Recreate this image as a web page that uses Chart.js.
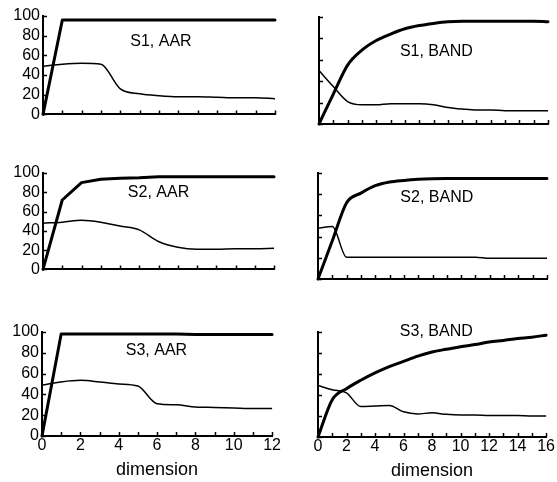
<!DOCTYPE html>
<html>
<head>
<meta charset="utf-8">
<script src="https://cdn.jsdelivr.net/npm/chart.js@4/dist/chart.umd.min.js"></script>
<style>
  html, body { margin: 0; padding: 0; background: #fff; }
  body { width: 557px; height: 482px; position: relative; overflow: hidden; }
  .panel { position: absolute; }
</style>
</head>
<body>
<div class="panel" id="p1"><canvas id="c1"></canvas></div>
<div class="panel" id="p2"><canvas id="c2"></canvas></div>
<div class="panel" id="p3"><canvas id="c3"></canvas></div>
<div class="panel" id="p4"><canvas id="c4"></canvas></div>
<div class="panel" id="p5"><canvas id="c5"></canvas></div>
<div class="panel" id="p6"><canvas id="c6"></canvas></div>
<script>
// ---- data ----
// x = dimension; the heavy curve and the light curve per panel
const aarDims  = [0, 1, 2, 3, 4, 5, 6, 7, 8, 9, 10, 11, 12];
const bandDims = [0, 1, 2, 3, 4, 5, 6, 7, 8, 9, 10, 11, 12, 13, 14, 15, 16];
const yTicks   = [0, 20, 40, 60, 80, 100];

const s1AarHeavy  = [0, 96, 96, 96, 96, 96, 96, 96, 96, 96, 96, 96, 96];
const s1AarLight  = [49, 51, 52, 51, 26, 21, 19, 18, 18, 17.5, 17, 17, 16];
const s1BandHeavy = [0, 28, 55, 69, 78, 84, 89, 92, 94, 95.5, 96, 96, 96, 96, 96, 96, 95.5];
const s1BandLight = [50, 35, 21, 18, 18, 19, 19, 19, 18, 15.5, 14, 13, 13, 12.5, 12.5, 12.5, 12.5];

const s2AarHeavy  = [0, 72, 90, 93.5, 94.5, 95, 96, 96, 96, 96, 96, 96, 96];
const s2AarLight  = [48, 49, 51, 49, 45, 41, 29, 23, 21, 21, 21.5, 21.5, 22];
const s2BandHeavy = [0, 36, 72, 81, 88, 91.5, 93, 94, 94.5, 94.7, 94.7, 94.7, 94.7, 94.7, 94.7, 94.7, 94.7];
const s2BandLight = [48, 49.5, 20.5, 20.5, 20.5, 20.5, 20.5, 20.5, 20.5, 20.5, 20.5, 20.5, 19.5, 19.5, 19.5, 19.5, 19.5];

const s3AarHeavy  = [0, 98, 98, 98, 98, 98, 98, 98, 97.5, 97.5, 97.5, 97.5, 97.5];
const s3AarLight  = [49, 52, 53.5, 52, 50, 48, 31, 30, 28, 27.5, 27, 26.5, 26.5];
const s3BandHeavy = [0, 35.5, 46, 54, 61, 67, 72, 77, 81, 83.5, 86, 88, 90.5, 92, 93.7, 95, 97];
const s3BandLight = [49, 45, 42, 29, 29.5, 30, 24, 22, 23, 21.6, 21, 21, 20.5, 20.5, 20.5, 20, 20];

const panelNames = ['S1, AAR', 'S1, BAND', 'S2, AAR', 'S2, BAND', 'S3, AAR', 'S3, BAND'];

const FONT = '"Liberation Sans", Arial, Helvetica, sans-serif';

Chart.defaults.font.family = FONT;
Chart.defaults.color = '#000';
Chart.defaults.animation = false;

// inward tick marks + the in-plot panel label
const panelDeco = {
  id: 'panelDeco',
  afterDraw(chart, args, opts) {
    const { ctx, chartArea: a, scales: { x, y } } = chart;
    ctx.save();
    ctx.strokeStyle = '#000';
    ctx.lineWidth = 1.5;
    ctx.beginPath();
    x.ticks.forEach((t) => {
      const px = Math.round(x.getPixelForValue(t.value)) + 0.5;
      ctx.moveTo(px, a.bottom);
      ctx.lineTo(px, a.bottom - 4);
    });
    y.ticks.forEach((t) => {
      const py = Math.round(y.getPixelForValue(t.value)) + 0.5;
      ctx.moveTo(a.left, py);
      ctx.lineTo(a.left + 4, py);
    });
    ctx.stroke();
    ctx.fillStyle = '#000';
    ctx.font = '16px ' + FONT;
    ctx.textAlign = 'center';
    ctx.textBaseline = 'middle';
    ctx.fillText(opts.text, x.getPixelForValue(opts.x), y.getPixelForValue(opts.y));
    ctx.restore();
  },
};

function makePanel(id, box, dims, heavy, light, name, labelAt, yLabels, xLabels) {
  const padTop = box.padTop || 14;
  const padR = 8;
  const axisW = box.axisW;
  const xH = xLabels ? 45 : 4;
  const div = document.getElementById('p' + id);
  div.style.left = (box.left - axisW) + 'px';
  div.style.top = (box.top - padTop) + 'px';
  div.style.width = (axisW + (box.right - box.left) + padR) + 'px';
  div.style.height = (padTop + (box.bottom - box.top) + xH) + 'px';

  new Chart(document.getElementById('c' + id), {
    type: 'line',
    data: {
      datasets: [
        {
          data: dims.map((d, i) => ({ x: d, y: heavy[i] })),
          borderColor: '#000',
          borderWidth: 3,
          pointRadius: 0,
          cubicInterpolationMode: name.indexOf('BAND') >= 0 ? 'monotone' : 'default',
          tension: 0,
          borderJoinStyle: 'round',
          borderCapStyle: 'round',
          clip: false,
        },
        {
          data: dims.map((d, i) => ({ x: d, y: light[i] })),
          borderColor: '#000',
          borderWidth: 1.5,
          pointRadius: 0,
          cubicInterpolationMode: 'monotone',
          borderJoinStyle: 'round',
          clip: false,
        },
      ],
    },
    options: {
      responsive: true,
      maintainAspectRatio: false,
      layout: { padding: { top: padTop, right: padR, left: 0, bottom: 0 } },
      plugins: {
        legend: { display: false },
        tooltip: { enabled: false },
        panelDeco: { text: name, x: labelAt[0], y: labelAt[1] },
      },
      scales: {
        x: {
          type: 'linear',
          min: 0,
          max: dims[dims.length - 1],
          afterFit: (s) => { s.height = xH; },
          afterBuildTicks: (s) => { s.ticks = dims.map((v) => ({ value: v })); },
          grid: { display: false, drawTicks: false },
          border: { color: '#000', width: 2 },
          ticks: {
            display: xLabels,
            padding: 0,
            autoSkip: false,
            maxRotation: 0,
            font: { size: 16 },
            callback: (v) => (v % 2 === 0 ? String(v) : ''),
          },
          title: {
            display: xLabels,
            text: 'dimension',
            font: { size: 18 },
            padding: { top: 0, bottom: 0 },
          },
        },
        y: {
          min: 0,
          max: 100,
          afterFit: (s) => { s.width = axisW; },
          afterBuildTicks: (s) => { s.ticks = yTicks.map((v) => ({ value: v })); },
          grid: { display: false, drawTicks: false },
          border: { color: '#000', width: 2 },
          ticks: { display: yLabels, autoSkip: false, padding: 3, font: { size: 16 } },
        },
      },
    },
    plugins: [panelDeco],
  });
}

makePanel(1, { left: 43, right: 275, top: 16, bottom: 123, axisW: 43 }, aarDims, s1AarHeavy, s1AarLight, panelNames[0], [6.1, 74], true, false);
makePanel(2, { left: 319, right: 548, top: 17, bottom: 124, axisW: 10 }, bandDims, s1BandHeavy, s1BandLight, panelNames[1], [8.2, 68], false, false);
makePanel(3, { left: 43, right: 274, top: 173, bottom: 278, axisW: 43 }, aarDims, s2AarHeavy, s2AarLight, panelNames[2], [6.0, 80], true, false);
makePanel(4, { left: 318, right: 547, top: 173, bottom: 279, axisW: 10 }, bandDims, s2BandHeavy, s2BandLight, panelNames[3], [8.3, 77], false, false);
makePanel(5, { left: 42, right: 273, top: 332, bottom: 436, axisW: 42 }, aarDims, s3AarHeavy, s3AarLight, panelNames[4], [5.97, 82], true, true);
makePanel(6, { left: 318, right: 547, top: 332, bottom: 437, axisW: 10, padTop: 22 }, bandDims, s3BandHeavy, s3BandLight, panelNames[5], [8.3, 100], false, true);
</script>
</body>
</html>
